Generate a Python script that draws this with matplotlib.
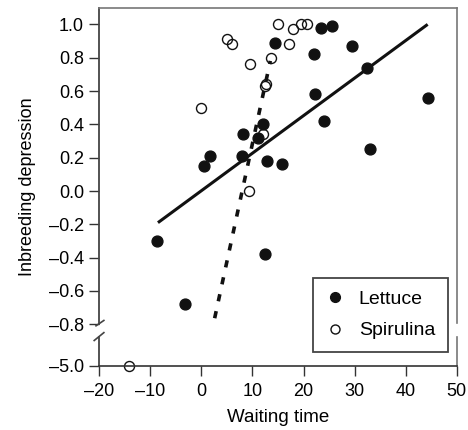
import numpy as np
import matplotlib
matplotlib.use('Agg')
import matplotlib.pyplot as plt

plt.rcParams['font.family'] = ['Liberation Sans', 'DejaVu Sans']

# data
lettuce_x = [14.4, 23.5, 25.5, 29.5, 22.0, 32.5, 22.3, 44.3, 24.1, 33.0,
             12.1, 8.2, 11.0, 8.0, 1.6, 0.5, 12.8, 15.8, -8.6, -3.3, 12.5]
lettuce_y = [0.89, 0.98, 0.99, 0.87, 0.82, 0.74, 0.58, 0.56, 0.42, 0.25,
             0.40, 0.34, 0.32, 0.21, 0.21, 0.15, 0.18, 0.16, -0.30, -0.68, -0.38]
spir_x = [15.0, 17.9, 19.6, 20.6, 5.1, 6.0, 17.2, 9.6, 13.6, 12.4, 12.6,
          -0.1, 12.1, 9.4, -14.1]
spir_y = [1.0, 0.97, 1.0, 1.0, 0.91, 0.88, 0.88, 0.76, 0.80, 0.63, 0.64,
          0.50, 0.34, 0.00, -5.0]

# fitted lines: slope, intercept, x range
lettuce_fit = (0.02254, 0.0016, [-8.5, 44.3])
spir_fit = (0.1417, -1.132, [2.6, 13.5])

yticks = [-5.0, -0.8, -0.6, -0.4, -0.2, 0.0, 0.2, 0.4, 0.6, 0.8, 1.0]
xticks = [-20, -10, 0, 10, 20, 30, 40, 50]

# compress everything below -0.8 (broken axis)
k = 0.25 / 4.2
def fwd(y):
    y = np.asarray(y, dtype=float)
    return np.where(y >= -0.8, y, -0.8 + (y + 0.8) * k)
def inv(y):
    y = np.asarray(y, dtype=float)
    return np.where(y >= -0.8, y, -0.8 + (y + 0.8) / k)

fig = plt.figure(figsize=(4.68, 4.30), dpi=100)
ax = fig.add_axes([0.212, 0.149, 0.764, 0.833])
ax.set_yscale('function', functions=(fwd, inv))

xs = np.array(lettuce_fit[2])
ax.plot(xs, lettuce_fit[0] * xs + lettuce_fit[1], color='#111111', lw=2.2,
        solid_capstyle='butt')
xs = np.array(spir_fit[2])
ax.plot(xs, spir_fit[0] * xs + spir_fit[1], color='#111111', lw=2.6,
        dashes=(2.0, 2.8))

ax.plot(lettuce_x, lettuce_y, 'o', ms=7.8, mfc='#111111', mec='#111111',
        label='Lettuce', clip_on=False)
ax.plot(spir_x, spir_y, 'o', ms=7.2, mfc='none', mec='#111111', mew=1.0,
        label='Spirulina', clip_on=False)

ax.set_xlim(-20, 50)
ax.set_ylim(-5.0, 1.1)
ax.set_xticks(xticks)
ax.set_yticks(yticks)
ax.set_yticklabels(['%.1f' % t if t >= 0 else '\u2013%.1f' % -t for t in yticks])
ax.set_xticklabels([str(t) if t >= 0 else '\u2013%d' % -t for t in xticks])
ax.tick_params(direction='out', length=7, width=1.0, labelsize=13, color='#333333')
ax.tick_params(axis='x', pad=5)
ax.tick_params(axis='y', pad=4)
ax.set_xlabel('Waiting time', fontsize=13.5, labelpad=7)
ax.set_ylabel('Inbreeding depression', fontsize=13, labelpad=9)

# spines with a break on left and right
for s in ['left', 'right']:
    ax.spines[s].set_visible(False)
ax.spines['bottom'].set_color('#333333')
ax.spines['top'].set_color('#777777')
ax.spines['bottom'].set_linewidth(1.2)
ax.spines['top'].set_linewidth(1.2)
tr = ax.transAxes
ax.plot([0, 0], [0.117, 1], transform=tr, color='#444444', lw=1.3, clip_on=False)
ax.plot([0, 0], [0, 0.081], transform=tr, color='#444444', lw=1.3, clip_on=False)
ax.plot([-0.009, 0.013], [0.112, 0.127], transform=tr, color='#444444', lw=1.2, clip_on=False)
ax.plot([-0.014, 0.013], [0.071, 0.093], transform=tr, color='#444444', lw=1.2, clip_on=False)
ax.plot([1, 1], [0.120, 1], transform=tr, color='#777777', lw=1.2, clip_on=False)
ax.plot([1, 1], [0, 0.081], transform=tr, color='#777777', lw=1.2, clip_on=False)

leg = ax.legend(loc='lower right', bbox_to_anchor=(0.975, 0.039), borderaxespad=0,
                fontsize=14, fancybox=False, framealpha=1, edgecolor='#444444',
                labelspacing=0.7, handlelength=1.0, handletextpad=0.7,
                borderpad=0.65, markerscale=0.9)
leg.get_frame().set_linewidth(1.3)

fig.savefig('out.png', dpi=100)
